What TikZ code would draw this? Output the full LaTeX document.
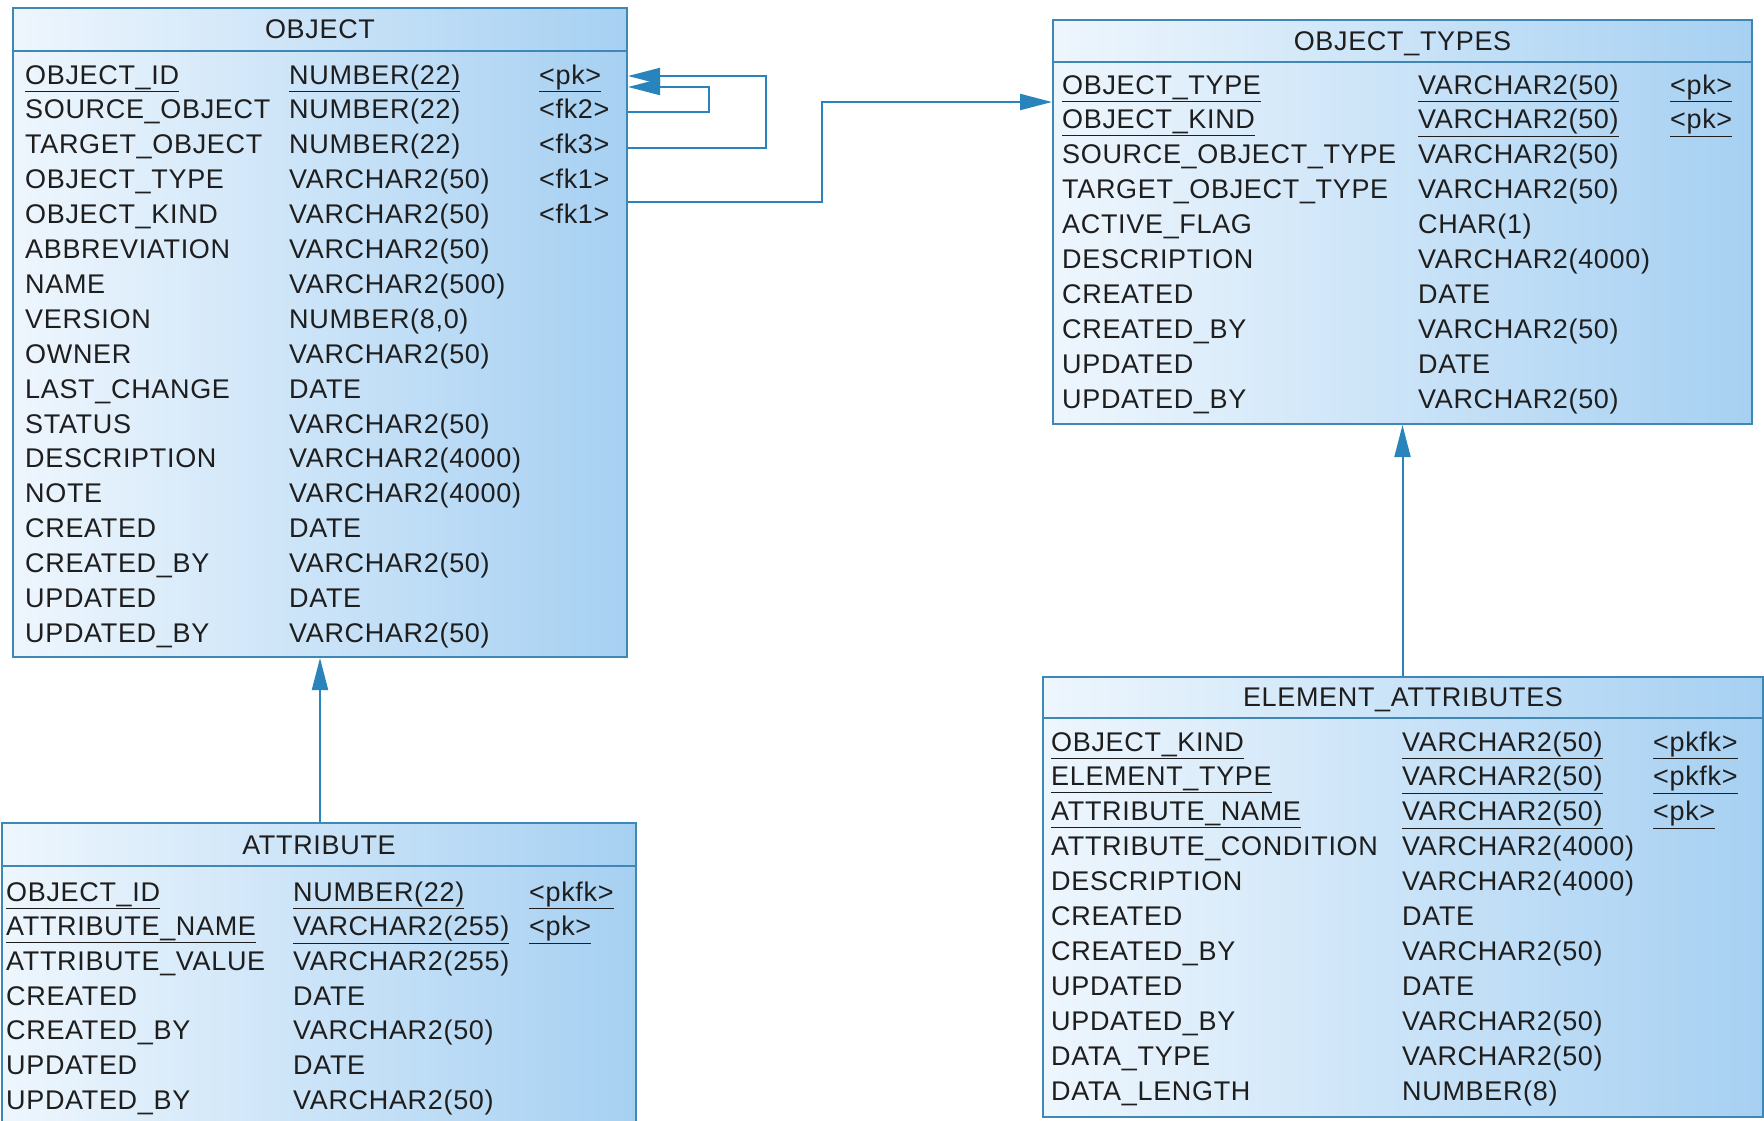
\documentclass[tikz,border=0pt]{standalone}
\usepackage{fontspec}
\setmainfont[LetterSpace=2.5]{Liberation Sans}
\usetikzlibrary{arrows.meta,calc,positioning}
\definecolor{tblborder}{HTML}{3F88B6}
\definecolor{tbllight}{HTML}{EEF6FD}
\definecolor{tbldark}{HTML}{A6D0F2}
\definecolor{reflink}{HTML}{2884BA}
\definecolor{fldtext}{HTML}{1E1E1E}
\newcommand{\pk}[1]{\underline{#1}}

\begin{document}
\begin{tikzpicture}[x=1pt,y=-1pt,>={Triangle[length=32pt,width=16pt]},
  tbl/.style={draw=tblborder,line width=2pt,left color=tbllight,right color=tbldark,
    shape=rectangle,inner sep=0pt,anchor=north west},
  ttl/.style={font=\fontsize{27}{32}\selectfont,text=fldtext,inner sep=0pt,anchor=base},
  fld/.style={font=\fontsize{27}{32}\selectfont,text=fldtext,inner sep=0pt,anchor=base west},
  sep/.style={draw=tblborder,line width=2pt},
  ref/.style={draw=reflink,line width=2pt,->}]
\useasboundingbox (0,0) rectangle (1764,1120);

% OBJECT
\node[tbl,minimum width=614pt,minimum height=649pt] (obj) at (12,7) {};
\draw[sep] ([yshift=-44pt]obj.north west) -- ([yshift=-44pt]obj.north east);
\node[ttl] (obj-title) at ([yshift=-31pt]obj.north) {OBJECT};
\foreach [count=\i] \a/\b/\c in {\pk{OBJECT\_ID}/\pk{NUMBER(22)}/\pk{<pk>},
    SOURCE\_OBJECT/NUMBER(22)/<fk2>, TARGET\_OBJECT/NUMBER(22)/<fk3>,
    OBJECT\_TYPE/VARCHAR2(50)/<fk1>, OBJECT\_KIND/VARCHAR2(50)/<fk1>,
    ABBREVIATION/VARCHAR2(50)/{}, NAME/VARCHAR2(500)/{}, VERSION/{NUMBER(8,0)}/{},
    OWNER/VARCHAR2(50)/{}, LAST\_CHANGE/DATE/{}, STATUS/VARCHAR2(50)/{},
    DESCRIPTION/VARCHAR2(4000)/{}, NOTE/VARCHAR2(4000)/{}, CREATED/DATE/{},
    CREATED\_BY/VARCHAR2(50)/{}, UPDATED/DATE/{}, UPDATED\_BY/VARCHAR2(50)/{}} {
  \node[fld] (obj-n\i) at ($(obj.north west)+(13,42.1+34.9*\i)$) {\a};
  \node[fld] (obj-t\i) at ($(obj.north west)+(277,42.1+34.9*\i)$) {\b};
  \node[fld] (obj-k\i) at ($(obj.north west)+(527,42.1+34.9*\i)$) {\c};
}

% OBJECT_TYPES
\node[tbl,minimum width=699pt,minimum height=404pt] (ot) at (1052,19) {};
\draw[sep] ([yshift=-43pt]ot.north west) -- ([yshift=-43pt]ot.north east);
\node[ttl] (ot-title) at ([yshift=-31pt]ot.north) {OBJECT\_TYPES};
\foreach [count=\i] \a/\b/\c in {\pk{OBJECT\_TYPE}/\pk{VARCHAR2(50)}/\pk{<pk>},
    \pk{OBJECT\_KIND}/\pk{VARCHAR2(50)}/\pk{<pk>},
    SOURCE\_OBJECT\_TYPE/VARCHAR2(50)/{}, TARGET\_OBJECT\_TYPE/VARCHAR2(50)/{},
    ACTIVE\_FLAG/CHAR(1)/{}, DESCRIPTION/VARCHAR2(4000)/{}, CREATED/DATE/{},
    CREATED\_BY/VARCHAR2(50)/{}, UPDATED/DATE/{}, UPDATED\_BY/VARCHAR2(50)/{}} {
  \node[fld] (ot-n\i) at ($(ot.north west)+(10,40.1+34.9*\i)$) {\a};
  \node[fld] (ot-t\i) at ($(ot.north west)+(366,40.1+34.9*\i)$) {\b};
  \node[fld] (ot-k\i) at ($(ot.north west)+(618,40.1+34.9*\i)$) {\c};
}

% ELEMENT_ATTRIBUTES
\node[tbl,minimum width=720pt,minimum height=440pt] (ea) at (1042,676) {};
\draw[sep] ([yshift=-42pt]ea.north west) -- ([yshift=-42pt]ea.north east);
\node[ttl] (ea-title) at ([yshift=-30pt]ea.north) {ELEMENT\_ATTRIBUTES};
\foreach [count=\i] \a/\b/\c in {\pk{OBJECT\_KIND}/\pk{VARCHAR2(50)}/\pk{<pkfk>},
    \pk{ELEMENT\_TYPE}/\pk{VARCHAR2(50)}/\pk{<pkfk>},
    \pk{ATTRIBUTE\_NAME}/\pk{VARCHAR2(50)}/\pk{<pk>},
    ATTRIBUTE\_CONDITION/VARCHAR2(4000)/{}, DESCRIPTION/VARCHAR2(4000)/{},
    CREATED/DATE/{}, CREATED\_BY/VARCHAR2(50)/{}, UPDATED/DATE/{},
    UPDATED\_BY/VARCHAR2(50)/{}, DATA\_TYPE/VARCHAR2(50)/{}, DATA\_LENGTH/NUMBER(8)/{}} {
  \node[fld] (ea-n\i) at ($(ea.north west)+(9,40.1+34.9*\i)$) {\a};
  \node[fld] (ea-t\i) at ($(ea.north west)+(360,40.1+34.9*\i)$) {\b};
  \node[fld] (ea-k\i) at ($(ea.north west)+(611,40.1+34.9*\i)$) {\c};
}

% ATTRIBUTE
\node[tbl,minimum width=634pt,minimum height=320pt] (attr) at (1,822) {};
\draw[sep] ([yshift=-44pt]attr.north west) -- ([yshift=-44pt]attr.north east);
\node[ttl] (attr-title) at ([yshift=-32pt]attr.north) {ATTRIBUTE};
\foreach [count=\i] \a/\b/\c in {\pk{OBJECT\_ID}/\pk{NUMBER(22)}/\pk{<pkfk>},
    \pk{ATTRIBUTE\_NAME}/\pk{VARCHAR2(255)}/\pk{<pk>},
    ATTRIBUTE\_VALUE/VARCHAR2(255)/{}, CREATED/DATE/{}, CREATED\_BY/VARCHAR2(50)/{},
    UPDATED/DATE/{}, UPDATED\_BY/VARCHAR2(50)/{}} {
  \node[fld] (attr-n\i) at ($(attr.north west)+(5,44.3+34.7*\i)$) {\a};
  \node[fld] (attr-t\i) at ($(attr.north west)+(292,44.3+34.7*\i)$) {\b};
  \node[fld] (attr-k\i) at ($(attr.north west)+(528,44.3+34.7*\i)$) {\c};
}

% references
\draw[ref] ([yshift=-105pt]obj.north east) -- ++(81,0) |- ([yshift=-80pt]obj.north east);
\draw[ref] ([yshift=-141pt]obj.north east) -- ++(138,0) |- ([yshift=-69pt]obj.north east);
\draw[ref] ([yshift=-195pt]obj.north east) -- ++(194,0) |- ([yshift=-83pt]ot.north west);
\draw[ref] (attr.north -| obj.south) -- (obj.south);
\draw[ref] (ea.north -| ot.south) -- (ot.south);
\end{tikzpicture}
\end{document}
